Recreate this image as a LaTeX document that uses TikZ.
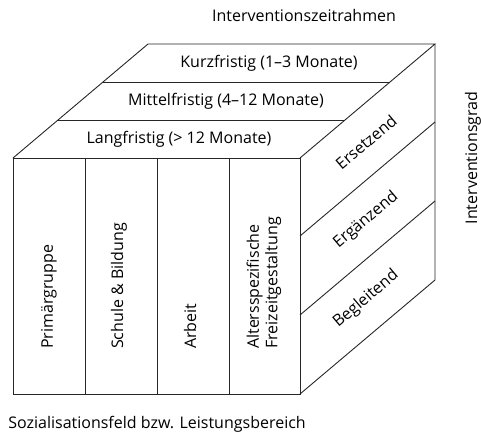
\documentclass[tikz,border=0pt]{standalone}
\usepackage{fontspec}
\setmainfont{Open Sans}
\begin{document}
\begin{tikzpicture}[x=1pt,y=-1pt,
  edge/.style={draw=black!85,line width=0.9pt,line join=miter},
  lbl/.style={inner sep=0pt,font=\fontsize{16}{18.5}\selectfont},
  vlbl/.style={lbl,rotate=90,anchor=west,align=left},
  slbl/.style={lbl,rotate=40.2}]
\useasboundingbox (0,0) rectangle (481,434);
% cube corners: front face, depth vector (135,-114)
\coordinate (F1) at (13,158);   \coordinate (F2) at (300,158);
\coordinate (F3) at (300,394);  \coordinate (F4) at (13,394);
\coordinate (B1) at (148,44);   \coordinate (B2) at (435,44);
\coordinate (B3) at (435,280);
% front face with four columns
\draw[edge] (F1) -- (F2) -- (F3) -- (F4) -- cycle;
\foreach \x in {85,157,229} \draw[edge] (\x,158) -- (\x,394);
% top face with three time bands
\draw[edge] (F1) -- (B1) -- (B2) -- (F2);
\draw[edge] (58,120) -- (345,120);
\draw[edge] (103,82) -- (390,82);
% right face with three intervention degrees
\draw[edge] (B2) -- (B3) -- (F3);
\draw[edge] (300,236) -- (435,122);
\draw[edge] (300,315) -- (435,201);
% labels on the top face
\node[lbl] (kurz) at (269,63) {Kurzfristig (1–3 Monate)};
\node[lbl] (mittel) at (226,101) {Mittelfristig (4–12 Monate)};
\node[lbl] (lang) at (179,139) {Langfristig (> 12 Monate)};
% labels on the front face
\node[vlbl] (prim) at (49,349) {Primärgruppe};
\node[vlbl] (schule) at (119,349) {Schule \& Bildung};
\node[vlbl] (arbeit) at (190,349) {Arbeit};
\node[vlbl] (frei) at (264,349) {Altersspezifische\\Freizeitgestaltung};
% labels on the right face
\node[slbl] (ers) at (366,142) {Ersetzend};
\node[slbl] (erg) at (366,220) {Ergänzend};
\node[slbl] (beg) at (366,299) {Begleitend};
% axis titles
\node[lbl] (zeit) at (304,15) {Interventionszeitrahmen};
\node[lbl,rotate=90] (grad) at (473,158) {Interventionsgrad};
\node[lbl] (feld) at (157,424) {Sozialisationsfeld bzw. Leistungsbereich};
\end{tikzpicture}
\end{document}
